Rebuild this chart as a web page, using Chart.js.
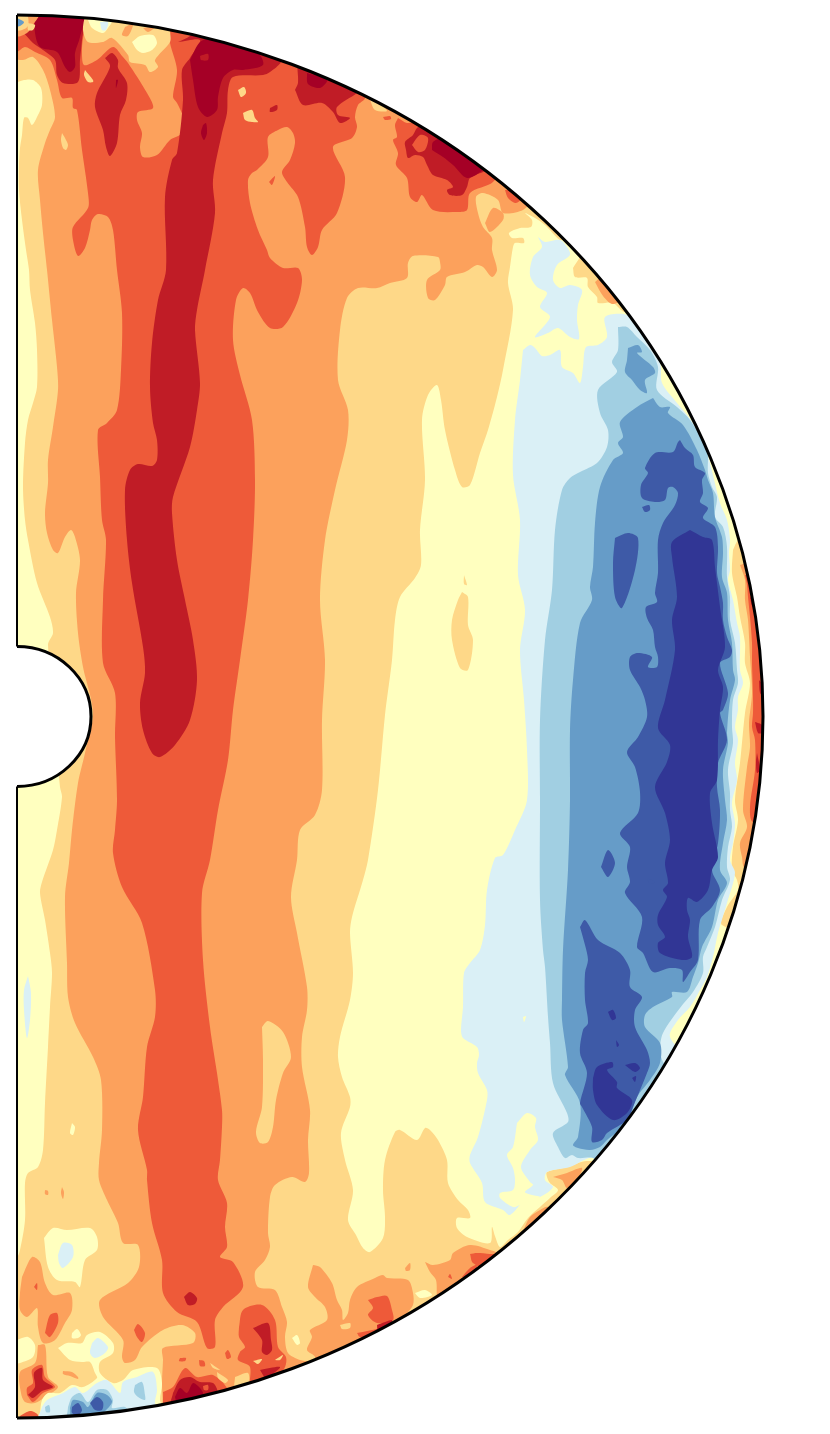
<!DOCTYPE html>
<html>
<head>
<meta charset="utf-8">
<title>Meridional slice</title>
<script src="https://cdn.jsdelivr.net/npm/chart.js@4/dist/chart.umd.min.js"></script>
<style>
  body { margin: 0; background: #fff; }
  canvas { display: block; }
</style>
</head>
<body>
<canvas id="sliceChart" width="830" height="1434"></canvas>
<script>
// contour outlines, flat s,z pairs per closed ring
const baseBand = [[-20,-720, 780,-720, 780,720, -20,720]];

const paleBands = [
  [-7,632, 7,637, 16,637, 24,629, 25,612, 21,602, 15,592, 11,599, 7,599, 5,582, 3,569, 2,552, 2,527, 5,497, 9,467, 12,447, 13,427, 18,394, 20,367, 20,330, 16,314, 11,297, 8,274, 6,230, 8,197, 11,177, 20,134, 33,100, 36,84, 31,72, 43,-70, 45,-80, 40,-113, 36,-133, 25,-165, 23,-176, 28,-203, 33,-236, 35,-256, 33,-290, 31,-330, 28,-386, 26,-433, 21,-450, 11,-456, 8,-466, 8,-503, 3,-533, 0,-540, -7,-540, -7,-713, 513,-713, 583,-448, 570,-444, 550,-450, 530,-455, 530,-460, 533,-466, 541,-473, 533,-481, 523,-490, 511,-501, 501,-515, 491,-523, 483,-530, 478,-519, 475,-510, 473,-526, 450,-520, 440,-511, 440,-501, 453,-501, 451,-493, 441,-483, 431,-466, 430,-443, 421,-423, 413,-413, 408,-411, 400,-423, 383,-413, 378,-415, 368,-443, 366,-473, 368,-500, 366,-521, 353,-535, 346,-531, 339,-518, 331,-503, 336,-473, 328,-443, 324,-416, 333,-390, 333,-380, 325,-360, 321,-340, 323,-320, 333,-283, 336,-256, 333,-216, 335,-200, 346,-163, 351,-143, 361,-73, 368,2, 375,57, 378,97, 383,120, 398,139, 404,152, 403,187, 408,237, 405,297, 411,322, 420,332, 424,317, 428,287, 438,247, 445,230, 453,232, 463,264, 471,287, 480,320, 486,347, 496,407, 491,434, 493,450, 496,470, 498,474, 507,474, 506,479, 495,479, 492,484, 503,489, 514,490, 515,497, 508,504, 518,499, 528,492, 543,477, 548,479, 583,517, 583,717, -7,717],
  [445,125, 451,120, 451,92, 456,77, 451,47, 443,49, 435,77, 435,97, 441,117],
  [447,142, 450,132, 447,133],
  [556,449, 558,440, 570,439, 571,430, 580,420, 581,414, 596,414, 608,405, 623,417, 573,477, 563,460],
  [716,167, 715,144, 720,120, 723,100, 728,74, 728,54, 733,34, 728,4, 723,-46, 718,-83, 721,-103, 716,-130, 715,-153, 720,-163, 721,-173, 710,-190, 705,-208, 743,-213, 773,17, 733,187, 721,177]
];

const orangeBands = [
  [-7,659, -7,717, 513,717, 513,517, 506,507, 486,504, 481,517, 466,524, 459,520, 461,504, 466,490, 475,479, 475,467, 480,447, 475,440, 466,450, 460,452, 448,445, 430,440, 428,432, 418,417, 411,419, 410,437, 423,447, 423,455, 421,460, 396,461, 391,454, 390,439, 373,434, 360,429, 341,429, 330,419, 323,387, 321,337, 331,307, 330,277, 318,227, 308,177, 303,117, 308,57, 305,-3, 305,-73, 298,-98, 283,-113, 280,-143, 274,-180, 280,-216, 290,-270, 290,-293, 285,-320, 285,-350, 293,-393, 291,-423, 292,-456, 288,-465, 275,-460, 258,-468, 253,-480, 251,-516, 253,-530, 248,-543, 238,-555, 241,-570, 258,-573, 265,-590, 270,-605, 268,-620, 271,-636, 283,-643, 301,-648, 301,-713, 148,-713, 146,-688, 145,-666, 146,-643, 146,-631, 176,-626, 178,-616, 165,-608, 146,-613, 125,-630, 118,-643, 108,-646, 105,-640, 106,-623, 86,-600, 83,-583, 111,-566, 122,-550, 121,-528, 106,-526, 101,-506, 90,-483, 82,-463, 82,-446, 85,-413, 84,-363, 76,-340, 58,-306, 51,-280, 50,-246, 48,-180, 52,-146, 55,-113, 61,-66, 68,-36, 76,4, 66,50, 61,84, 59,124, 63,157, 58,180, 54,187, 48,180, 41,164, 36,167, 30,184, 28,204, 31,234, 31,257, 36,290, 41,327, 40,350, 35,397, 30,447, 26,484, 23,517, 21,547, 28,574, 33,587, 38,600, 33,627, 26,647, 16,660, 6,657],
  [468,494, 476,509, 486,504, 486,497, 473,485],
  [578,435, 586,421, 595,413, 603,417, 588,442],
  [536,-460, 550,-456, 565,-451, 560,-463, 550,-471, 545,-463],
  [506,-514, 513,-500, 523,-493, 531,-490, 543,-503, 513,-523],
  [408,-545, 416,-548, 433,-543, 436,-536, 453,-528, 473,-533, 483,-538, 483,-553, 423,-593, 420,-580, 419,-563, 413,-555],
  [388,-551, 393,-546, 393,-553, 389,-554],
  [296,-548, 303,-550, 315,-566, 320,-583, 325,-593, 326,-603, 331,-596, 333,-583, 340,-570, 358,-561, 366,-558, 370,-561, 391,-563, 396,-576, 396,-588, 387,-601, 383,-623, 293,-653, 298,-640, 290,-633, 295,-620, 293,-613, 310,-603, 308,-590, 298,-580, 291,-570],
  [5,-560, 15,-540, 23,-545, 28,-566, 36,-578, 53,-576, 55,-593, 48,-606, 38,-623, 26,-626, 21,-610, 20,-591, 10,-600, 3,-593, 3,-576],
  [21,-628, 28,-628, 31,-660, 41,-670, 28,-680, 18,-686, 8,-685, 4,-676, 3,-655, 18,-646],
  [28,-473, 31,-474, 31,-478, 28,-477],
  [45,-470, 47,-475, 46,-482, 44,-476],
  [723,152, 728,137, 728,117, 731,97, 733,60, 735,24, 732,-6, 733,-30, 730,-50, 726,-93, 730,-110, 723,-126, 725,-140, 728,-151, 763,-153, 773,17, 743,157]
];

const coralBands = [
  [-7,665, -7,717, 66,717, 65,667, 67,652, 80,657, 96,670, 106,660, 111,654, 130,624, 136,609, 121,605, 120,597, 125,584, 123,570, 126,560, 140,562, 153,577, 165,584, 166,600, 160,614, 156,620, 160,647, 153,674, 153,682, 158,697, 353,697, 348,619, 341,612, 338,600, 340,590, 335,579, 316,570, 328,540, 320,504, 305,487, 301,470, 295,462, 290,470, 288,490, 281,520, 270,535, 265,545, 273,557, 278,574, 276,584, 270,590, 261,587, 251,580, 251,560, 240,547, 235,544, 231,537, 233,514, 241,487, 250,467, 253,459, 266,449, 281,449, 285,437, 280,414, 266,390, 253,389, 241,405, 233,424, 226,429, 219,417, 216,377, 223,342, 235,297, 238,237, 236,177, 231,117, 223,57, 216,7, 211,-43, 201,-93, 193,-143, 185,-176, 186,-243, 193,-310, 200,-356, 205,-393, 205,-410, 203,-443, 201,-463, 210,-486, 208,-510, 210,-530, 203,-540, 216,-545, 226,-570, 206,-590, 198,-603, 198,-630, 190,-631, 180,-605, 160,-595, 146,-576, 145,-543, 135,-506, 130,-463, 130,-453, 121,-413, 126,-380, 130,-330, 138,-300, 138,-273, 125,-206, 105,-170, 96,-136, 98,-113, 100,-83, 98,-20, 98,24, 86,54, 86,117, 89,177, 85,197, 83,240, 81,287, 90,294, 100,307, 104,347, 105,404, 100,447, 96,487, 91,500, 81,503, 75,497, 73,487, 68,469, 61,461, 56,477, 56,490, 71,509, 71,524, 65,567, 60,607, 56,609, 55,619, 45,619, 40,637, 33,657, 18,665, 8,670, 0,665],
  [381,599, 390,594, 403,595, 483,552, 476,535, 453,524, 450,507, 440,505, 416,507, 405,522, 400,515, 393,520, 390,539, 379,552, 381,564, 376,577, 380,580, 378,592],
  [488,527, 496,527, 503,517, 498,514, 491,519],
  [366,600, 373,601, 374,598, 368,597],
  [222,-610, 226,-593, 245,-588, 258,-603, 261,-630, 269,-640, 268,-650, 258,-663, 233,-678, 233,-650, 221,-643, 223,-635, 228,-630, 222,-620],
  [208,-636, 211,-633, 214,-640, 210,-642],
  [146,-675, 156,-670, 168,-651, 180,-660, 196,-658, 210,-671, 211,-683, 183,-708, 148,-693],
  [117,-613, 121,-607, 128,-616, 125,-625, 120,-620],
  [28,-616, 33,-598, 40,-596, 41,-606, 33,-620],
  [17,-570, 20,-566, 20,-573],
  [10,-678, 10,-671, 16,-666, 15,-653, 25,-648, 28,-660, 38,-670, 26,-676, 16,-685],
  [3,-699, 13,-694, 21,-698, 21,-708, 0,-708],
  [182,-643, 187,-644, 188,-649, 183,-649],
  [163,-641, 169,-641, 168,-644, 162,-644],
  [453,-537, 460,-536, 473,-537, 483,-538, 473,-553, 456,-546],
  [445,-560, 453,-551, 460,-548, 455,-561],
  [431,-560, 433,-557, 435,-562],
  [351,-583, 360,-580, 370,-579, 375,-593, 376,-603, 360,-606, 351,-598, 356,-591],
  [340,-616, 363,-611, 375,-605, 363,-618, 343,-620],
  [252,535, 258,541, 255,532],
  [728,142, 730,132, 731,120, 733,100, 735,74, 735,54, 736,20, 736,4, 735,-10, 738,-23, 738,-53, 733,-90, 736,-105, 768,-103, 773,17, 753,142]
];

const redBands = [
  [161,675, 173,681, 183,692, 268,672, 264,655, 253,645, 246,642, 216,640, 211,627, 210,604, 205,584, 196,537, 198,504, 188,447, 180,407, 178,387, 183,334, 180,307, 173,270, 156,220, 155,204, 160,157, 168,117, 176,77, 180,37, 173,-3, 158,-28, 143,-40, 135,-36, 126,-13, 123,14, 128,44, 126,70, 115,134, 110,177, 108,227, 113,247, 121,253, 135,251, 140,257, 140,277, 136,294, 133,330, 135,374, 141,417, 149,447, 148,520, 155,557, 160,564, 166,617, 165,647, 173,659, 183,677],
  [6,685, 16,674, 26,667, 38,657, 40,642, 46,634, 61,635, 63,657, 65,677, 67,707, 13,707, 16,692],
  [88,659, 95,664, 101,657, 101,649, 110,634, 109,617, 103,602, 100,574, 93,561, 89,570, 86,587, 78,610, 80,624, 91,645, 93,652],
  [389,567, 388,575, 396,582, 400,589, 413,597, 483,552, 466,545, 453,539, 450,530, 445,522, 433,522, 430,527, 436,530, 430,537, 416,542, 410,552, 406,560, 398,562, 391,559],
  [278,627, 281,634, 283,657, 348,632, 340,624, 320,610, 321,602, 333,599, 323,594, 316,605, 305,614, 286,612],
  [253,609, 260,612, 260,607, 253,605],
  [236,-611, 251,-606, 254,-623, 255,-633, 250,-638, 245,-635, 245,-623],
  [243,-653, 263,-650, 255,-658, 250,-663],
  [156,-676, 163,-663, 173,-660, 183,-665, 196,-666, 200,-675, 180,-680, 168,-703, 153,-693],
  [11,-678, 18,-670, 17,-656, 25,-651, 26,-663, 36,-670, 25,-674, 16,-681],
  [360,-608, 375,-603, 373,-608, 361,-613],
  [167,-580, 173,-575, 180,-581, 178,-587, 171,-588],
  [733,120, 736,117, 738,109, 735,111],
  [742,37, 746,32, 746,22, 743,24],
  [738,-5, 745,-8, 745,-16, 741,-16],
  [740,-36, 743,-53, 740,-56, 739,-45]
];

const deepRedBands = [
  [173,657, 183,675, 196,679, 216,671, 241,664, 246,652, 226,647, 216,647, 206,639, 201,620, 200,607, 190,600, 181,610, 176,637],
  [186,592, 189,594, 190,584, 187,577, 184,584],
  [18,700, 67,707, 63,680, 58,664, 58,650, 53,645, 48,650, 40,665, 23,670, 18,684],
  [415,567, 416,575, 428,579, 473,557, 466,547, 450,539, 436,552, 426,560],
  [290,644, 310,637, 303,629, 291,633],
  [158,-680, 163,-671, 170,-676, 176,-666, 183,-671, 186,-678, 160,-685],
  [99,637, 101,637, 99,629]
];

// small patches that sit on top of the reds
const coralSpots = [
  [395,572, 403,582, 411,579, 408,567, 401,565],
  [186,-669, 191,-668, 191,-673, 187,-673]
];
const redSpots = [[183,661, 191,663, 191,657, 184,657]];
const orangeSpots = [
  [0,702, 23,705, 16,692, 10,684, 0,681],
  [46,-654, 55,-655, 61,-660, 61,-662, 53,-659, 46,-657]
];
const paleSpots = [
  [245,-310, 251,-304, 266,-315, 274,-340, 266,-356, 259,-383, 256,-410, 251,-425, 243,-426, 239,-415, 245,-390, 246,-343],
  [68,702, 66,687, 71,675, 86,675, 95,679, 111,662, 113,655, 128,652, 133,645, 141,650, 138,657, 153,675, 153,685, 151,695],
  [45,584, 48,579, 51,572, 49,567, 46,569, 44,577],
  [221,627, 227,630, 229,624, 224,620],
  [226,604, 235,607, 238,599, 241,595, 235,595, 228,597],
  [68,647, 76,637, 76,635, 71,635, 67,642],
  [353,617, 358,607, 370,606, 363,614, 358,622],
  [193,-646, 203,-653, 196,-651],
  [200,-655, 211,-663, 208,-666, 201,-661],
  [218,-660, 231,-656, 231,-668, 218,-671],
  [323,-608, 333,-606, 333,-611, 325,-612],
  [236,-644, 245,-642, 241,-647],
  [258,-643, 266,-638, 263,-643],
  [0,702, 10,702, 11,691, 5,687, 0,687],
  [11,694, 18,692, 16,687, 11,687]
];
const orangeTopSpots = [
  [108,690, 116,693, 111,681, 105,682],
  [126,689, 138,690, 131,685]
];

const yellowBands = [
  [115,675, 123,681, 136,682, 140,674, 135,667, 126,664, 120,667],
  [71,697, 75,689, 86,684, 91,689, 95,697, 83,705],
  [27,-521, 36,-511, 50,-513, 73,-511, 80,-520, 80,-533, 68,-543, 63,-570, 58,-565, 40,-563, 31,-550],
  [41,-631, 50,-626, 65,-626, 70,-618, 83,-615, 96,-626, 96,-636, 83,-645, 83,-656, 96,-666, 106,-663, 116,-653, 140,-651, 145,-666, 143,-683, 146,-690, 153,-708, 21,-708, 23,-696, 25,-683, 31,-676, 43,-676, 55,-668, 66,-670, 80,-661, 78,-656, 73,-645, 65,-645, 53,-643],
  [55,-616, 60,-612, 64,-618, 61,-621, 55,-621],
  [0,-623, 11,-620, 18,-628, 16,-640, 3,-646, 0,-646],
  [55,-406, 58,-410, 56,-418, 53,-416],
  [275,-621, 280,-618, 283,-626, 280,-628],
  [398,-576, 408,-573, 415,-578, 403,-581]
];

const iceBands = [
  [506,367, 513,372, 518,369, 525,361, 533,362, 543,367, 545,350, 556,344, 563,334, 566,350, 569,370, 581,372, 590,380, 588,400, 610,402, 623,387, 643,354, 645,334, 660,314, 676,294, 690,264, 703,214, 710,197, 713,177, 712,164, 713,147, 711,137, 716,117, 720,94, 723,80, 723,47, 726,34, 721,20, 721,7, 718,-10, 721,-23, 718,-46, 720,-63, 715,-86, 718,-106, 716,-126, 713,-143, 718,-156, 710,-186, 701,-216, 696,-240, 690,-260, 683,-273, 673,-290, 661,-303, 653,-320, 683,-363, 603,-463, 576,-441, 553,-450, 530,-455, 528,-463, 536,-470, 523,-480, 508,-483, 493,-498, 486,-493, 468,-485, 465,-466, 453,-446, 453,-438, 461,-420, 470,-383, 470,-373, 461,-356, 460,-346, 462,-338, 460,-330, 446,-321, 444,-313, 446,-290, 447,-256, 453,-246, 463,-233, 468,-208, 470,-173, 478,-141, 486,-138, 498,-113, 510,-83, 510,-33, 507,17, 503,67, 508,107, 501,142, 503,197, 496,242, 498,297, 503,337],
  [521,480, 528,475, 543,477, 550,470, 553,462, 540,452, 536,437, 543,429, 553,432, 565,427, 561,412, 560,397, 562,378, 553,380, 541,389, 531,384, 518,380, 533,400, 523,410, 530,424, 520,430, 513,442, 516,460, 525,470],
  [25,-690, 30,-683, 46,-676, 58,-670, 66,-676, 80,-666, 90,-663, 103,-676, 106,-665, 120,-660, 136,-655, 140,-673, 138,-686, 143,-693, 148,-708, 21,-708],
  [41,-538, 46,-526, 55,-528, 56,-540, 46,-551, 42,-546],
  [75,-626, 81,-621, 91,-630, 88,-636, 78,-641, 73,-636],
  [11,-259, 14,-276, 13,-303, 10,-321, 7,-293, 7,-273],
  [83,695, 91,695, 89,687, 85,687]
];

const skyBands = [
  [601,390, 610,390, 620,380, 633,367, 641,350, 640,327, 660,310, 673,297, 690,267, 691,244, 695,230, 700,220, 698,200, 706,190, 710,170, 710,140, 713,120, 713,97, 718,74, 720,47, 721,34, 716,17, 715,-10, 716,-26, 711,-53, 713,-76, 713,-93, 715,-110, 711,-130, 710,-150, 713,-163, 705,-183, 698,-210, 690,-230, 686,-240, 686,-256, 676,-275, 663,-291, 646,-316, 643,-333, 646,-345, 653,-353, 583,-448, 576,-441, 561,-441, 555,-438, 548,-441, 541,-430, 536,-416, 551,-405, 550,-396, 536,-366, 533,-326, 531,-300, 528,-250, 526,-233, 523,-183, 523,-83, 523,-3, 528,77, 535,127, 538,187, 545,227, 553,239, 563,245, 580,254, 590,270, 591,287, 583,304, 581,327, 600,345, 595,355, 601,367],
  [51,-690, 55,-680, 63,-676, 71,-685, 80,-673, 90,-673, 96,-683, 95,-691, 108,-690, 113,-698, 113,-708, 51,-708],
  [118,-668, 125,-665, 128,-678, 128,-683, 121,-680, 117,-675],
  [28,-690, 32,-688, 33,-695, 29,-695]
];

const steelBands = [
  [636,319, 643,310, 653,310, 651,304, 666,292, 680,267, 688,247, 691,237, 696,224, 698,200, 705,180, 706,164, 705,140, 710,124, 711,97, 715,74, 716,47, 718,37, 713,17, 710,-16, 711,-26, 706,-53, 708,-83, 710,-103, 706,-126, 703,-153, 710,-166, 701,-183, 695,-210, 685,-230, 681,-246, 676,-260, 670,-275, 655,-275, 655,-280, 636,-290, 628,-298, 628,-310, 643,-326, 643,-346, 633,-363, 620,-380, 610,-406, 590,-423, 583,-430, 573,-433, 561,-431, 556,-428, 561,-420, 563,-386, 548,-358, 551,-350, 545,-303, 545,-283, 546,-233, 551,-153, 553,-83, 553,-13, 556,37, 563,94, 575,117, 573,130, 576,150, 578,194, 583,230, 596,257, 606,264, 601,274, 606,280, 603,295, 620,310],
  [611,369, 621,372, 625,365, 620,364, 636,350, 638,344, 628,337, 630,324, 623,327, 615,337, 608,345, 610,357],
  [53,-691, 56,-683, 66,-685, 71,-690, 80,-676, 90,-678, 95,-685, 87,-695, 78,-700, 55,-703],
  [0,699, 7,695, 3,691, 0,691]
];

const blueBands = [
  [663,277, 668,269, 676,262, 678,250, 688,244, 685,237, 686,224, 683,215, 691,209, 686,199, 698,190, 701,170, 700,144, 703,130, 706,114, 706,97, 710,80, 715,67, 713,60, 703,54, 711,24, 706,7, 703,4, 710,-23, 701,-46, 700,-70, 703,-93, 701,-126, 695,-153, 703,-173, 695,-190, 683,-203, 681,-243, 673,-255, 666,-265, 665,-253, 653,-251, 636,-255, 626,-236, 620,-230, 625,-200, 608,-176, 613,-165, 610,-150, 613,-130, 603,-116, 621,-96, 623,-75, 618,-50, 610,-35, 621,-20, 630,0, 628,17, 623,30, 613,47, 613,60, 621,64, 635,60, 631,50, 640,50, 641,60, 638,70, 636,87, 630,99, 629,110, 640,115, 638,124, 641,144, 641,177, 646,194, 658,212, 661,224, 656,230, 651,229, 648,217, 638,215, 625,219, 624,232, 631,244, 628,249, 638,264, 656,265, 661,275],
  [563,-210, 568,-203, 581,-223, 603,-236, 613,-253, 613,-270, 625,-280, 618,-293, 618,-310, 630,-333, 633,-346, 630,-356, 616,-390, 610,-403, 590,-416, 585,-423, 575,-425, 575,-410, 565,-390, 563,-386, 570,-356, 563,-336, 566,-313, 571,-306, 568,-283, 568,-256, 571,-243, 568,-228],
  [598,179, 611,184, 621,179, 618,147, 605,109, 598,120, 596,154],
  [625,210, 632,212, 633,207, 628,205],
  [584,-150, 591,-133, 598,-146, 591,-160],
  [630,-161, 638,-165, 633,-167],
  [55,-690, 61,-686, 65,-693, 61,-698, 55,-696],
  [73,-686, 80,-680, 86,-685, 85,-693, 78,-693]
];

const navyBands = [
  [673,187, 686,180, 695,177, 698,150, 703,110, 708,70, 701,47, 706,30, 703,7, 701,-23, 700,-63, 693,-76, 695,-106, 701,-140, 695,-153, 691,-173, 680,-185, 671,-181, 670,-193, 673,-203, 671,-220, 675,-240, 665,-243, 643,-236, 641,-226, 648,-220, 641,-208, 641,-198, 650,-180, 646,-173, 651,-166, 648,-146, 653,-123, 648,-96, 638,-70, 650,-45, 653,-28, 641,-11, 648,17, 658,67, 655,97, 660,120, 655,160, 655,175],
  [576,-361, 580,-350, 595,-345, 596,-350, 590,-353, 600,-365, 600,-371, 615,-383, 610,-396, 596,-403, 580,-388, 576,-373],
  [591,-295, 596,-293, 599,-301, 595,-303],
  [608,-348, 618,-346, 623,-351, 618,-355],
  [599,-323, 602,-328, 600,-330],
  [615,-361, 619,-359, 618,-365]
];

const yellowTop = [
  [500,-406, 510,-396, 519,-401, 518,-410, 521,-423, 513,-433, 504,-450, 513,-465, 516,-468, 508,-475, 515,-478, 523,-480, 503,-488, 496,-490, 483,-481, 483,-476, 496,-473, 498,-463, 496,-451, 490,-438, 496,-430],
  [506,-300, 509,-299, 507,-305]
];

const colors = {
  deepRed: '#a50026',
  red: '#c01c26',
  coral: '#ee5a39',
  orange: '#fca15c',
  pale: '#fed888',
  yellow: '#ffffbf',
  ice: '#daf0f6',
  sky: '#a1cfe2',
  steel: '#669cc8',
  blue: '#3e5aa7',
  navy: '#313695'
};

// painted in this order, each band over the one before
const layers = [
  [colors.yellow, baseBand],
  [colors.pale, paleBands],
  [colors.orange, orangeBands],
  [colors.coral, coralBands],
  [colors.red, redBands],
  [colors.deepRed, deepRedBands],
  [colors.coral, coralSpots],
  [colors.red, redSpots],
  [colors.orange, orangeSpots],
  [colors.pale, paleSpots],
  [colors.orange, orangeTopSpots],
  [colors.yellow, yellowBands],
  [colors.ice, iceBands],
  [colors.sky, skyBands],
  [colors.steel, steelBands],
  [colors.blue, blueBands],
  [colors.navy, navyBands],
  [colors.yellow, yellowTop]
];

// domain of the slice in data units
const outerS = 746, outerZ = 701.5, innerS = 74, innerZ = 70, centerZ = 0.5;

function ringPoints(ring) {
    var pts = [];
    for (var i = 0; i < ring.length; i += 2) {
        pts.push({ x: ring[i], y: ring[i + 1] });
    }
    pts.push({ x: ring[0], y: ring[1] });
    return pts;
}

var datasets = [];
layers.forEach(function(layer) {
    layer[1].forEach(function(ring) {
        datasets.push({
            data: ringPoints(ring),
            backgroundColor: layer[0],
            borderWidth: 0,
            pointRadius: 0,
            fill: 'shape',
            tension: 0.3,
            order: -datasets.length
        });
    });
});

function domainGeometry(chart) {
    var x = chart.scales.x, y = chart.scales.y;
    var cx = x.getPixelForValue(0), cy = y.getPixelForValue(centerZ);
    return {
        cx: cx,
        cy: cy,
        rx: x.getPixelForValue(outerS) - cx,
        ry: cy - y.getPixelForValue(centerZ + outerZ),
        ix: x.getPixelForValue(innerS) - cx,
        iy: cy - y.getPixelForValue(centerZ + innerZ)
    };
}

const domainClip = {
    id: 'domainClip',
    beforeDatasetsDraw: function(chart) {
        var ctx = chart.ctx, g = domainGeometry(chart);
        ctx.save();
        ctx.beginPath();
        ctx.ellipse(g.cx, g.cy, g.rx, g.ry, 0, -Math.PI / 2, Math.PI / 2);
        ctx.lineTo(g.cx, g.cy + g.iy);
        ctx.ellipse(g.cx, g.cy, g.ix, g.iy, 0, Math.PI / 2, -Math.PI / 2, true);
        ctx.closePath();
        ctx.clip();
    },
    afterDatasetsDraw: function(chart) {
        var ctx = chart.ctx, g = domainGeometry(chart);
        ctx.restore();
        ctx.strokeStyle = '#000';
        // the straight axis is thinner than the two arcs
        ctx.lineWidth = 2;
        ctx.beginPath();
        ctx.moveTo(g.cx, g.cy - g.ry);
        ctx.lineTo(g.cx, g.cy - g.iy);
        ctx.moveTo(g.cx, g.cy + g.iy);
        ctx.lineTo(g.cx, g.cy + g.ry);
        ctx.stroke();
        ctx.lineWidth = 3;
        ctx.beginPath();
        ctx.ellipse(g.cx, g.cy, g.rx, g.ry, 0, -Math.PI / 2, Math.PI / 2);
        ctx.stroke();
        ctx.beginPath();
        ctx.ellipse(g.cx, g.cy, g.ix, g.iy, 0, -Math.PI / 2, Math.PI / 2);
        ctx.stroke();
    }
};

new Chart(document.getElementById('sliceChart').getContext('2d'), {
    type: 'scatter',
    data: { datasets: datasets },
    plugins: [domainClip],
    options: {
        responsive: false,
        animation: false,
        showLine: true,
        layout: { padding: { left: 17, right: 67, top: 15, bottom: 16 } },
        elements: { line: { capBezierPoints: false } },
        plugins: {
            legend: { display: false },
            tooltip: { enabled: false }
        },
        scales: {
            x: { type: 'linear', display: false, min: 0, max: outerS },
            y: { type: 'linear', display: false, min: centerZ - outerZ, max: centerZ + outerZ }
        }
    }
});
</script>
</body>
</html>
